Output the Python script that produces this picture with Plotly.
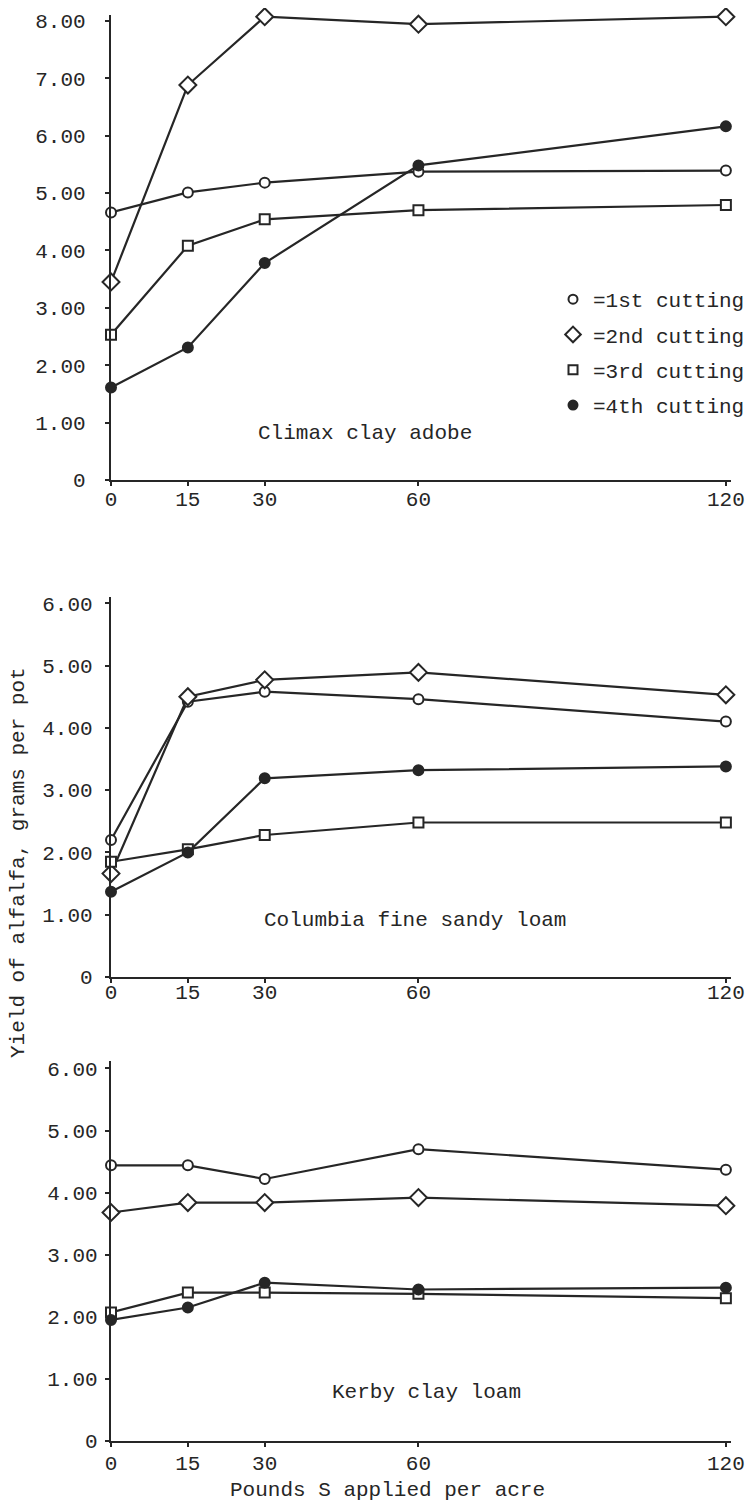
import plotly.graph_objects as go

# ---------------- data ----------------
rates = [0, 15, 30, 60, 120]
x_ticks = [0, 15, 30, 60, 120]
x_ticktext = ["0", "15", "30", "60", "120"]

cuttings = ["1st cutting", "2nd cutting", "3rd cutting", "4th cutting"]

# Climax clay adobe
climax_1st = [4.66, 5.01, 5.18, 5.37, 5.39]
climax_2nd = [3.45, 6.88, 8.07, 7.94, 8.07]
climax_3rd = [2.53, 4.08, 4.54, 4.70, 4.79]
climax_4th = [1.61, 2.31, 3.78, 5.48, 6.16]

# Columbia fine sandy loam
columbia_1st = [2.20, 4.42, 4.58, 4.46, 4.10]
columbia_2nd = [1.66, 4.50, 4.77, 4.89, 4.53]
columbia_3rd = [1.85, 2.05, 2.28, 2.48, 2.48]
columbia_4th = [1.37, 2.00, 3.19, 3.32, 3.38]

# Kerby clay loam
kerby_1st = [4.44, 4.44, 4.22, 4.70, 4.37]
kerby_2nd = [3.68, 3.84, 3.84, 3.92, 3.79]
kerby_3rd = [2.07, 2.39, 2.39, 2.37, 2.30]
kerby_4th = [1.95, 2.15, 2.55, 2.44, 2.47]

y_ticks_top = [0, 1, 2, 3, 4, 5, 6, 7, 8]
y_ticktext_top = ["0", "1.00", "2.00", "3.00", "4.00", "5.00", "6.00", "7.00", "8.00"]
y_ticks_low = [0, 1, 2, 3, 4, 5, 6]
y_ticktext_low = ["0", "1.00", "2.00", "3.00", "4.00", "5.00", "6.00"]

panel_names = ["Climax clay adobe", "Columbia fine sandy loam", "Kerby clay loam"]
y_title = "Yield of alfalfa, grams per pot"
x_title = "Pounds S applied per acre"

# ---------------- styling ----------------
INK = "#262626"
FONT = "Liberation Mono"
FS = 21
PAGE_OFF = 8            # default body margin of the html page
W, H = 756 - PAGE_OFF, 1505 - PAGE_OFF

symbols = {
    "1st cutting": dict(symbol="circle", size=10, color="white"),
    "2nd cutting": dict(symbol="diamond", size=13, color="white"),
    "3rd cutting": dict(symbol="square", size=10, color="white"),
    "4th cutting": dict(symbol="circle", size=10, color=INK),
}

panels = [
    (climax_1st, climax_2nd, climax_3rd, climax_4th),
    (columbia_1st, columbia_2nd, columbia_3rd, columbia_4th),
    (kerby_1st, kerby_2nd, kerby_3rd, kerby_4th),
]

fig = go.Figure()

for p, series in enumerate(panels):
    xa = "x" if p == 0 else f"x{p+1}"
    ya = "y" if p == 0 else f"y{p+1}"
    for name, vals in zip(cuttings, series):
        s = symbols[name]
        fig.add_trace(go.Scatter(
            x=rates, y=vals, xaxis=xa, yaxis=ya,
            mode="lines+markers",
            line=dict(color=INK, width=2.2),
            marker=dict(symbol=s["symbol"], size=s["size"], color=s["color"],
                        line=dict(color=INK, width=2)),
            cliponaxis=False, showlegend=False, name=name,
        ))

# legend-only marker traces
for name in cuttings:
    s = symbols[name]
    fig.add_trace(go.Scatter(
        x=[None], y=[None], mode="markers", name="=" + name,
        legendgroup=name,
        marker=dict(symbol=s["symbol"], size=s["size"] - 1, color=s["color"],
                    line=dict(color=INK, width=2)),
        showlegend=True,
    ))


def px_y(p):
    return 1 - (p - PAGE_OFF) / H


def px_x(p):
    return (p - PAGE_OFF) / W


x_dom = [px_x(111), px_x(731)]
doms = [
    [px_y(480), px_y(15)],
    [px_y(977), px_y(597)],
    [px_y(1441), px_y(1061)],
]
yranges = [[0, 8.1], [0, 6.1], [0, 6.12]]
y_standoff = [15, 8, 3]
x_standoff = [-5, -9, -2]

axis_common = dict(
    showline=True, linecolor=INK, linewidth=2.2,
    showgrid=False, zeroline=False, automargin=False,
    ticks="outside", ticklen=4, tickwidth=1.5, tickcolor=INK,
    tickfont=dict(family=FONT, size=FS, color=INK),
)

layout = dict(
    width=W, height=H,
    margin=dict(l=0, r=0, t=0, b=0),
    paper_bgcolor="white", plot_bgcolor="white",
    font=dict(family=FONT, size=FS, color=INK),
    showlegend=True,
    legend=dict(
        x=px_x(553), y=px_y(279), xanchor="left", yanchor="top",
        font=dict(family=FONT, size=FS, color=INK),
        bgcolor="rgba(0,0,0,0)", tracegroupgap=5,
        traceorder="grouped",
    ),
)

for p in range(3):
    sx = "" if p == 0 else str(p + 1)
    layout["xaxis" + sx] = dict(
        axis_common, domain=x_dom, range=[0, 121], anchor="y" + sx,
        tickvals=x_ticks, ticktext=x_ticktext, ticklabelstandoff=x_standoff[p],
    )
    tv, tt = (y_ticks_top, y_ticktext_top) if p == 0 else (y_ticks_low, y_ticktext_low)
    layout["yaxis" + sx] = dict(
        axis_common, domain=doms[p], range=yranges[p], anchor="x" + sx,
        tickvals=tv, ticktext=tt, ticklabelstandoff=y_standoff[p],
    )

fig.update_layout(**layout)

ann = [
    (panel_names[0], 365, 433),
    (panel_names[1], 415, 920),
    (panel_names[2], 426, 1392),
]
for text, cx, cy in ann:
    fig.add_annotation(text=text, x=px_x(cx), y=px_y(cy), xref="paper", yref="paper",
                       showarrow=False, xanchor="center", yanchor="middle",
                       font=dict(family=FONT, size=FS, color=INK))

fig.add_annotation(text=y_title, x=px_x(18), y=px_y(863), xref="paper", yref="paper",
                   showarrow=False, textangle=-90, xanchor="center", yanchor="middle",
                   font=dict(family=FONT, size=FS, color=INK))
fig.add_annotation(text=x_title, x=px_x(387), y=px_y(1490), xref="paper", yref="paper",
                   showarrow=False, xanchor="center", yanchor="middle",
                   font=dict(family=FONT, size=FS, color=INK))

fig.write_html("out.html")
